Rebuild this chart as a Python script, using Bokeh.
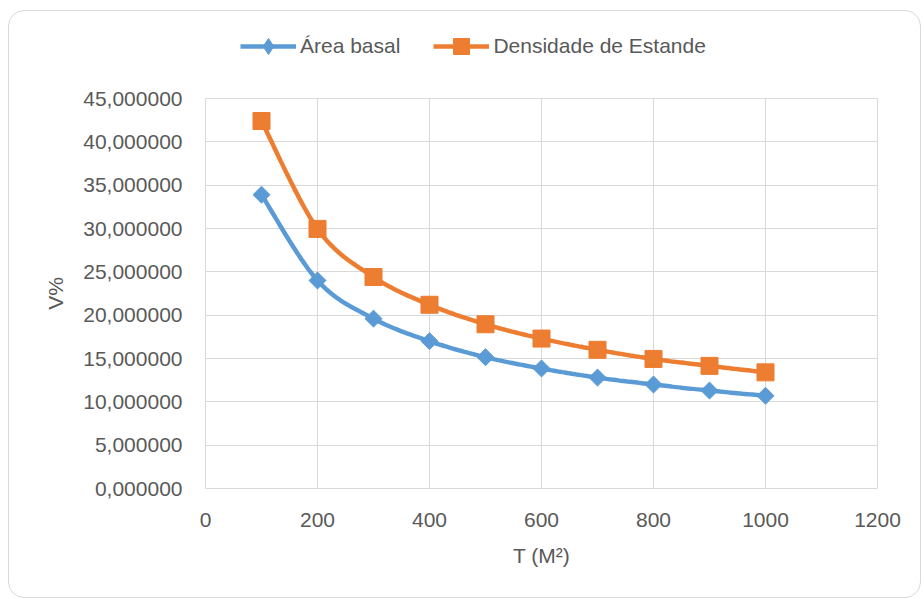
import numpy as np
from bokeh.plotting import figure
from bokeh.layouts import column
from bokeh.models import Range1d, FixedTicker, Legend, LegendItem, InlineStyleSheet
from bokeh.embed import file_html
from bokeh.resources import INLINE

# ---- data ----
t_values = [100, 200, 300, 400, 500, 600, 700, 800, 900, 1000]
area_basal = [33.9, 24.0, 19.6, 17.0, 15.15, 13.85, 12.8, 12.0, 11.3, 10.7]
densidade_estande = [42.4, 29.95, 24.4, 21.2, 18.95, 17.3, 16.0, 14.95, 14.15, 13.4]
series_names = ["Área basal", "Densidade de Estande"]
x_ticks = [0, 200, 400, 600, 800, 1000, 1200]
y_ticks = [0, 5, 10, 15, 20, 25, 30, 35, 40, 45]
y_tick_labels = ["0,000000", "5,000000", "10,000000", "15,000000", "20,000000",
                 "25,000000", "30,000000", "35,000000", "40,000000", "45,000000"]
x_title = "T (M²)"
y_title = "V%"

FONT = "Liberation Sans"
TXT = "#595959"
GRID = "#d9d9d9"
BLUE = "#5B9BD5"
ORANGE = "#ED7D31"
LEG_H = 78


def smooth(xs, ys, n=24):
    """Excel-like smoothed line (Catmull-Rom style cubic Bezier)."""
    P = np.column_stack([xs, ys]).astype(float)
    m = len(P)
    out = []
    for i in range(m - 1):
        p0 = P[i - 1] if i > 0 else P[i]
        p1 = P[i]
        p2 = P[i + 1]
        p3 = P[i + 2] if i + 2 < m else P[i + 1]
        c1 = p1 + (p2 - p0) / 6.0
        c2 = p2 - (p3 - p1) / 6.0
        t = np.linspace(0, 1, n, endpoint=(i == m - 2))[:, None]
        b = ((1 - t) ** 3) * p1 + 3 * ((1 - t) ** 2) * t * c1 + 3 * (1 - t) * t ** 2 * c2 + t ** 3 * p2
        out.append(b)
    out = np.vstack(out)
    return out[:, 0], out[:, 1]


# ---------------- main chart ----------------
p = figure(width=922, height=599 - LEG_H, output_backend="svg", toolbar_location=None,
           x_range=Range1d(0, 1200), y_range=Range1d(0, 45),
           min_border_left=205, min_border_right=45, min_border_top=98 - LEG_H,
           min_border_bottom=111)

p.background_fill_color = "white"
p.border_fill_color = "white"
p.outline_line_color = GRID
p.outline_line_width = 1

for ax in (p.xaxis[0], p.yaxis[0]):
    ax.axis_line_color = None
    ax.major_tick_line_color = None
    ax.minor_tick_line_color = None
    ax.major_tick_out = 0
    ax.major_tick_in = 0
    ax.minor_tick_out = 0
    ax.major_label_text_font = FONT
    ax.major_label_text_font_size = "21px"
    ax.major_label_text_color = TXT
    ax.axis_label_text_font = FONT
    ax.axis_label_text_font_size = "21px"
    ax.axis_label_text_color = TXT
    ax.axis_label_text_font_style = "normal"

p.xaxis.ticker = FixedTicker(ticks=x_ticks)
p.yaxis.ticker = FixedTicker(ticks=y_ticks)
p.yaxis.major_label_overrides = {v: s for v, s in zip(y_ticks, y_tick_labels)}
p.xaxis.major_label_overrides = {v: str(v) for v in x_ticks}
p.xaxis.axis_label = x_title
p.yaxis.axis_label = y_title
p.xaxis.major_label_standoff = 24
p.yaxis.major_label_standoff = 23
p.xaxis.axis_label_standoff = 14
p.yaxis.axis_label_standoff = 13

p.xgrid.grid_line_color = GRID
p.ygrid.grid_line_color = GRID
p.xgrid.grid_line_width = 1
p.ygrid.grid_line_width = 1

bx, by = smooth(t_values, area_basal)
ox, oy = smooth(t_values, densidade_estande)

p.line(bx, by, line_color=BLUE, line_width=4.5)
p.scatter(t_values, area_basal, marker="square", angle=np.pi / 4, size=12,
          fill_color=BLUE, line_color=BLUE)
p.line(ox, oy, line_color=ORANGE, line_width=4.5)
p.scatter(t_values, densidade_estande, marker="square", size=17,
          fill_color=ORANGE, line_color=ORANGE)

# ---------------- legend band (above the chart) ----------------
leg = figure(width=922, height=LEG_H, output_backend="svg", toolbar_location=None,
             x_range=Range1d(-20, -10), y_range=Range1d(-20, -10),
             x_axis_type=None, y_axis_type=None,
             min_border_left=205, min_border_right=45, min_border_top=0, min_border_bottom=0)
leg.outline_line_color = None
leg.background_fill_color = "white"
leg.border_fill_color = "white"
leg.grid.visible = False

# same series as legend sources (outside the visible range of this band)
la = leg.line(t_values, area_basal, line_color=BLUE, line_width=4.5)
ma = leg.scatter(t_values, area_basal, marker="diamond", size=17,
                 fill_color=BLUE, line_color=BLUE)
lb = leg.line(t_values, densidade_estande, line_color=ORANGE, line_width=4.5)
mb = leg.scatter(t_values, densidade_estande, marker="square", size=17,
                 fill_color=ORANGE, line_color=ORANGE)

legend = Legend(items=[LegendItem(label=series_names[0], renderers=[la, ma]),
                       LegendItem(label=series_names[1], renderers=[lb, mb])],
                orientation="horizontal", location=(35, LEG_H - 66),
                glyph_width=56, glyph_height=40, label_standoff=4, spacing=33,
                padding=0, margin=0, border_line_color=None,
                background_fill_alpha=0,
                label_text_font=FONT, label_text_font_size="21px",
                label_text_color=TXT)
leg.add_layout(legend, "center")

layout = column(leg, p, spacing=0)
layout.stylesheets = [InlineStyleSheet(css=(
    ":host::after { content: ''; position: absolute; left: 8px; top: 10px; "
    "right: 1px; bottom: 1px; border: 1.5px solid #d9d9d9; border-radius: 16px; "
    "box-sizing: border-box; pointer-events: none; z-index: 10; }"))]

open("out.html", "w").write(file_html(layout, INLINE))
